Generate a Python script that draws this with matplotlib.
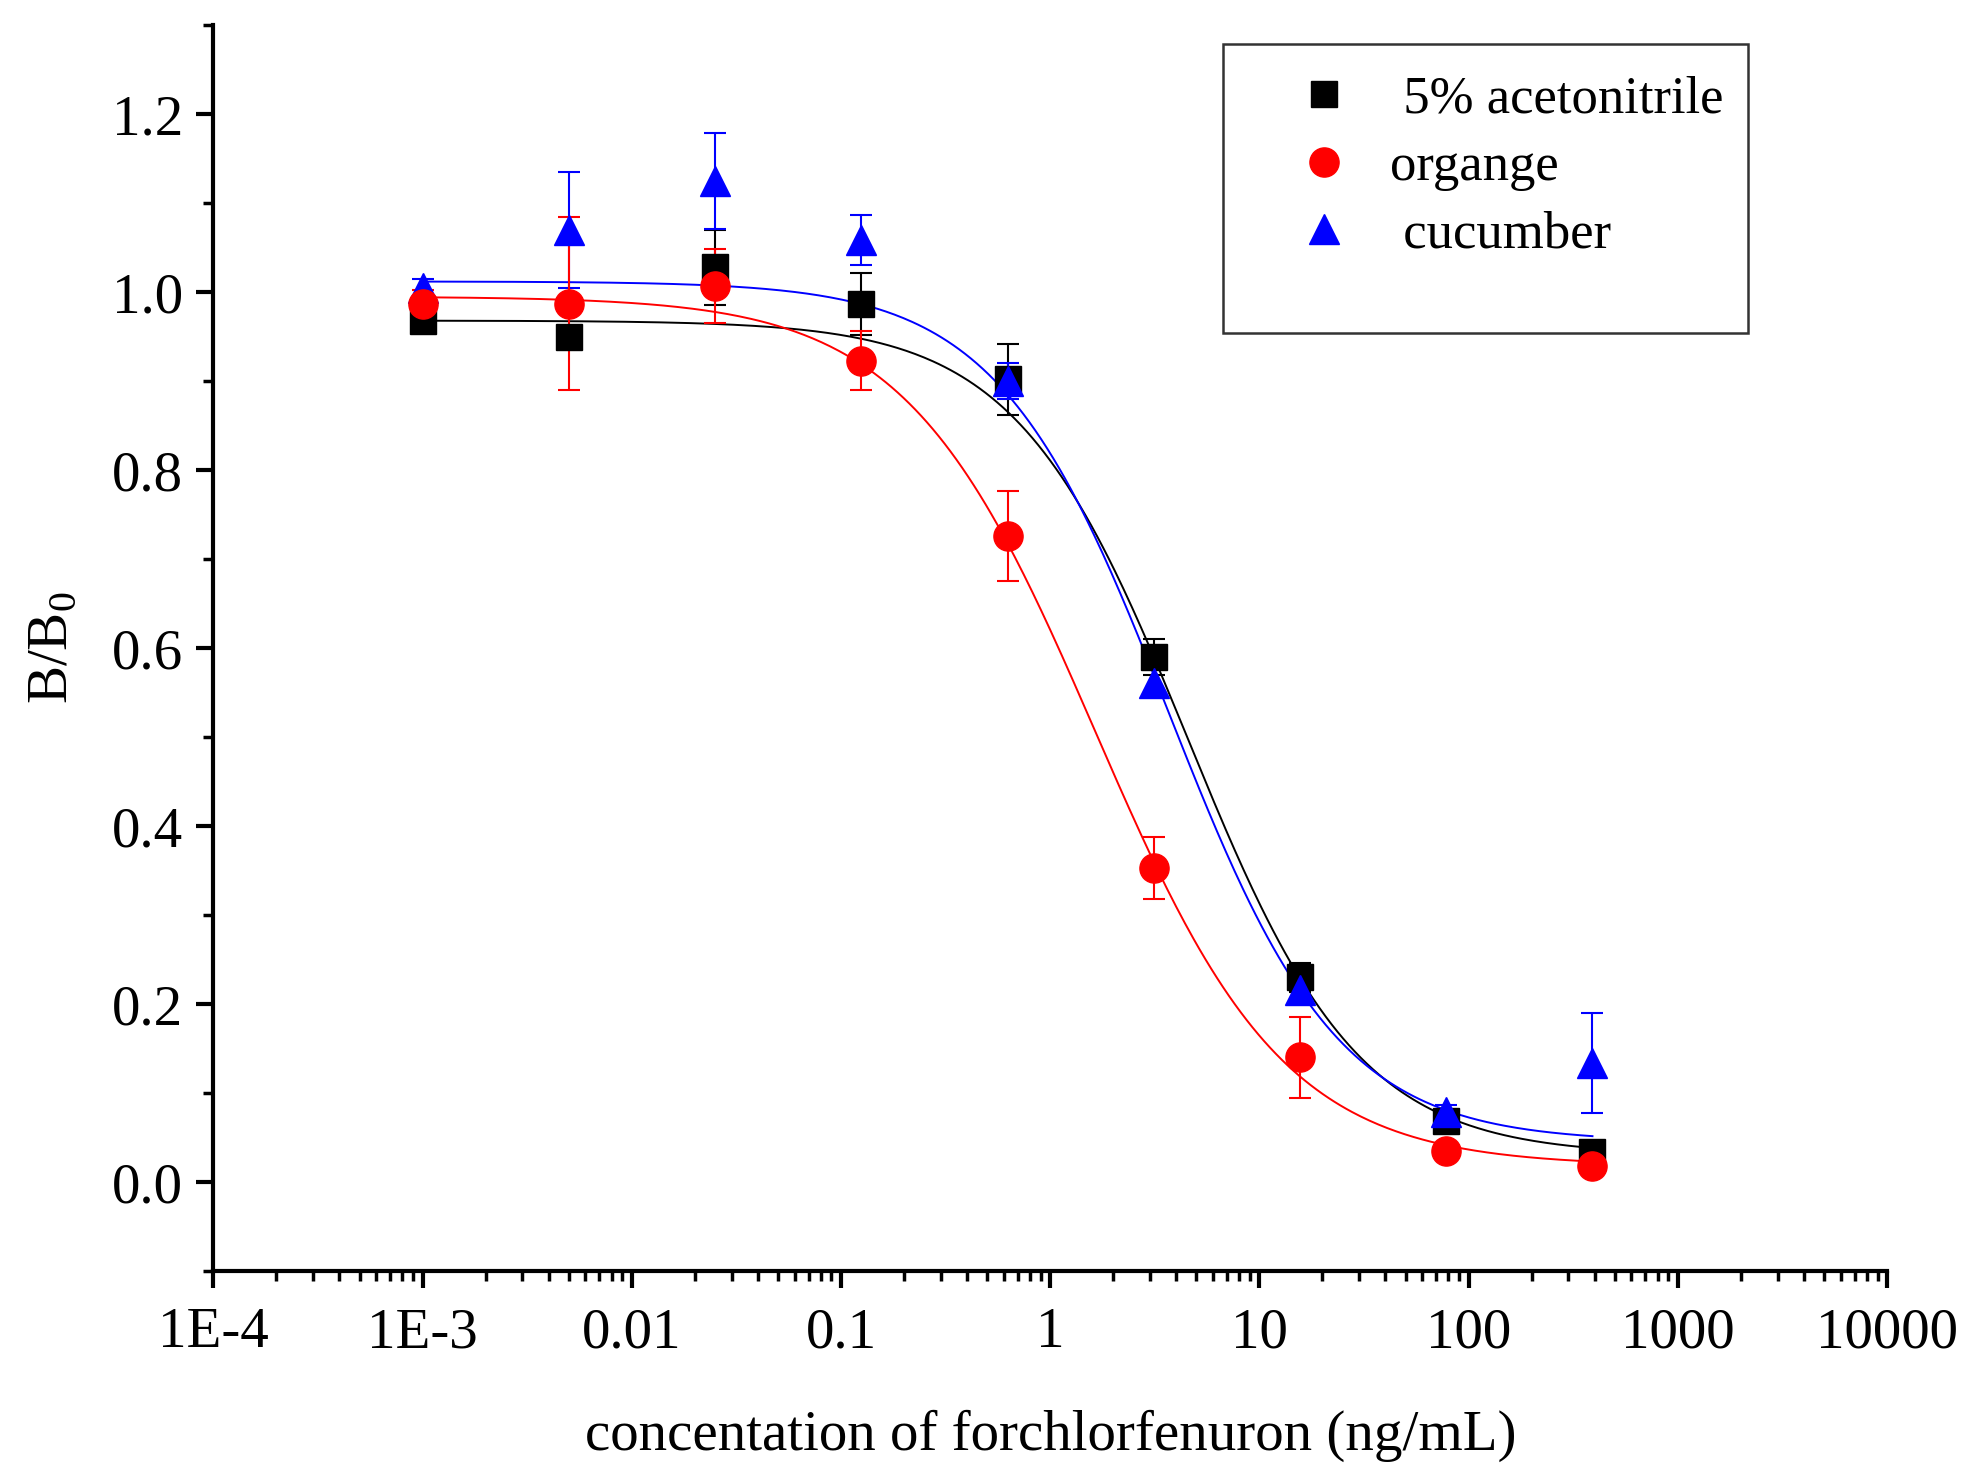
import matplotlib
matplotlib.use("Agg")
import matplotlib.pyplot as plt
import numpy as np
from matplotlib.ticker import FixedLocator, FixedFormatter, LogLocator, NullFormatter, MultipleLocator
from matplotlib.lines import Line2D
from matplotlib.patches import Rectangle

plt.rcParams['font.family'] = ['Liberation Serif', 'DejaVu Serif']
plt.rcParams['mathtext.fontset'] = 'custom'
plt.rcParams['mathtext.rm'] = 'Liberation Serif'

# concentrations (ng/mL), 5-fold dilution
conc = [0.001, 0.005, 0.025, 0.125, 0.625, 3.125, 15.625, 78.125, 390.625]

# 5% acetonitrile
acn_y = [0.968, 0.950, 1.028, 0.987, 0.902, 0.590, 0.230, 0.069, 0.034]
acn_err = [0.010, 0.010, 0.042, 0.035, 0.040, 0.020, 0.016, 0.008, 0.006]

# organge
org_y = [0.987, 0.987, 1.007, 0.923, 0.726, 0.353, 0.140, 0.035, 0.018]
org_err = [0.015, 0.097, 0.042, 0.033, 0.051, 0.035, 0.045, 0.006, 0.006]

# cucumber
cuc_y = [1.005, 1.070, 1.125, 1.059, 0.900, 0.561, 0.216, 0.079, 0.134]
cuc_err = [0.010, 0.065, 0.054, 0.028, 0.020, 0.015, 0.015, 0.008, 0.056]

# fitted logistic parameters: top, bottom, x0, p
acn_fit = [0.968, 0.030, 4.53, 1.06]
org_fit = [0.995, 0.018, 1.64, 0.96]
cuc_fit = [1.012, 0.045, 3.67, 1.067]

xtick_vals = [1e-4, 1e-3, 1e-2, 1e-1, 1, 10, 100, 1000, 10000]
xtick_labels = ["1E-4", "1E-3", "0.01", "0.1", "1", "10", "100", "1000", "10000"]


def logistic(x, p):
    return p[1] + (p[0] - p[1]) / (1 + (x / p[2]) ** p[3])


fig = plt.figure(figsize=(19.69, 14.78), dpi=100)
ax = fig.add_axes([0.1084, 0.140, 0.850, 0.843])

xs = np.logspace(np.log10(conc[0]), np.log10(conc[-1]), 400)

series = [
    (acn_y, acn_err, acn_fit, "black", "s", 19),
    (cuc_y, cuc_err, cuc_fit, "#0000ff", "^", 22),
    (org_y, org_err, org_fit, "#ff0000", "o", 21),
]
for y, err, fit, c, m, ms in series:
    ax.plot(xs, logistic(xs, fit), color=c, lw=1.4)
    ax.errorbar(conc, y, yerr=err, fmt=m, color=c, ms=ms, mec=c, mfc=c,
                ecolor=c, elinewidth=1.5, capsize=8, capthick=1.5)

ax.set_xscale("log")
ax.set_xlim(1e-4, 1e4)
ax.set_ylim(-0.1, 1.3)

ax.xaxis.set_major_locator(FixedLocator(xtick_vals))
ax.xaxis.set_major_formatter(FixedFormatter(xtick_labels))
ax.xaxis.set_minor_locator(LogLocator(base=10, subs=np.arange(2, 10), numticks=20))
ax.xaxis.set_minor_formatter(NullFormatter())
ax.yaxis.set_major_locator(FixedLocator([0.0, 0.2, 0.4, 0.6, 0.8, 1.0, 1.2]))
ax.yaxis.set_major_formatter(FixedFormatter(["0.0", "0.2", "0.4", "0.6", "0.8", "1.0", "1.2"]))
ax.yaxis.set_minor_locator(MultipleLocator(0.1))

for s in ["top", "right"]:
    ax.spines[s].set_visible(False)
for s in ["left", "bottom"]:
    ax.spines[s].set_linewidth(3)

ax.tick_params(axis="both", which="major", direction="out", length=12, width=3,
               labelsize=41, pad=10)
ax.tick_params(axis="x", which="major", pad=14)
ax.tick_params(axis="both", which="minor", direction="out", length=7, width=2.5)

ax.set_xlabel("concentation of forchlorfenuron (ng/mL)", fontsize=41, labelpad=36)
ax.set_ylabel(r"B/B$_\mathregular{0}$", fontsize=41, labelpad=24)

# legend box
ax.add_patch(Rectangle((0.603, 0.753), 0.314, 0.232, transform=ax.transAxes,
                       fill=False, ec="#333333", lw=1.8, zorder=5))
handles = [
    Line2D([], [], ls="none", marker="s", color="black", ms=19),
    Line2D([], [], ls="none", marker="o", color="#ff0000", ms=21),
    Line2D([], [], ls="none", marker="^", color="#0000ff", ms=22),
]
labels = [" 5% acetonitrile", "organge", " cucumber"]
ax.legend(handles, labels, loc="upper left", bbox_to_anchor=(0.613, 0.985),
          frameon=False, fontsize=38, handletextpad=0.25, labelspacing=0.37,
          borderaxespad=0.2)

fig.savefig("out.png", dpi=100)
